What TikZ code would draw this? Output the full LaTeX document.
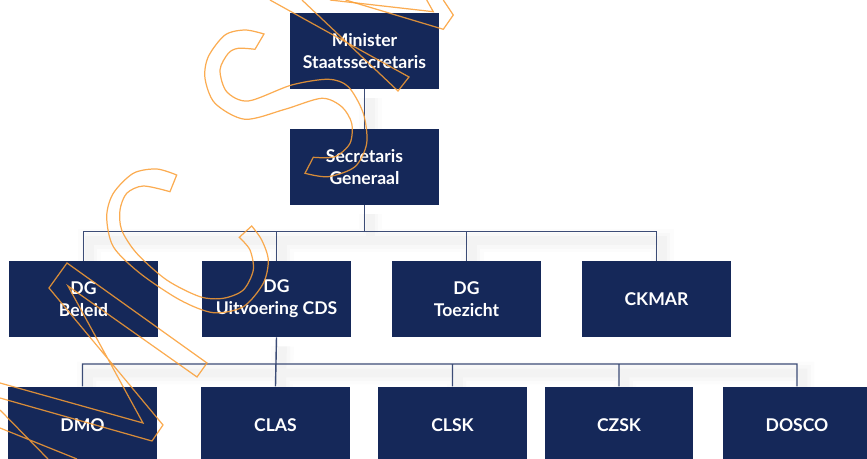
\documentclass[tikz,border=0pt]{standalone}
\usepackage{fontspec}
\setmainfont{Lato}
\usetikzlibrary{backgrounds}
\definecolor{boxblue}{RGB}{21,40,89}
\definecolor{linegray}{RGB}{60,76,118}
\definecolor{wmorange}{RGB}{250,158,52}
\begin{document}
\begin{tikzpicture}[x=0.02cm, y=-0.02cm,
    every node/.style = {fill=boxblue, text=white, align=center, inner sep=0pt,
        minimum width=2.98cm, minimum height=1.52cm,
        font=\bfseries\fontsize{10}{12.5}\selectfont},
    conn/.style = {draw=linegray, line width=0.8pt,
        preaction={draw=black, draw opacity=0.012, line width=13pt, transform canvas={shift={(6,9)}}},
        preaction={draw=black, draw opacity=0.014, line width=9pt, transform canvas={shift={(6,9)}}},
        preaction={draw=black, draw opacity=0.018, line width=5pt, transform canvas={shift={(6,9)}}}},
    wm/.style = {draw=wmorange, draw opacity=0.85, line width=0.7pt}]
    \useasboundingbox (0,0) rectangle (867,459);
    % top
    \node (min) at (364.5,51) {Minister\\Staatssecretaris};
    \node (sg) at (364.5,167) {Secretaris\\Generaal};
    % directoraten
    \node (beleid) at (83.5,299) {DG\\Beleid};
    \node (uitv) at (276.5,299) {DG\\Uitvoering CDS};
    \node (toez) at (466.5,299) {DG\\Toezicht};
    \node (ckmar) at (656.5,299) {CKMAR};
    % onder DG Uitvoering
    \node (dmo) at (82.5,424.7) {DMO};
    \node (clas) at (275.5,424.7) {CLAS};
    \node (clsk) at (452.5,424.7) {CLSK};
    \node (czsk) at (619,424.7) {CZSK};
    \node (dosco) at (797,424.7) {DOSCO};
    \coordinate (bar1) at (364.5,231.7);
    \coordinate (bar2) at (275.5,364);
    \begin{scope}[on background layer]
        \draw[conn] (min) -- (sg);
        \draw[conn] (sg.south) -- (bar1) -| (beleid.north)
            (bar1) -| (uitv.north) (bar1) -| (toez.north) (bar1) -| (ckmar.north);
        \draw[conn] (uitv.south) -- (clas.north) (bar2) -| (dmo.north)
            (bar2) -| (clsk.north) (bar2) -| (czsk.north) (bar2) -| (dosco.north);
    \end{scope}
    % watermark
    \draw[wm] (270,0) -- (409,77) -- (398,91) -- (302,0);
    \draw[wm] (330,0) -- (433.3,11.7) -- (426.7,0);
    \draw[wm] (345.6,0) -- (443.3,29.3) -- (453.3,15) -- (443.3,0);
    \draw[wm] plot[smooth] coordinates {(264,34) (245,30) (225,35) (208.3,56.7) (205,78.3)
        (215,103.3) (245,119.3) (285,109.3) (321.7,98.3) (341.7,106.7) (351.7,123.3)
        (350,143.3) (335,156.7) (313.3,157.3)}
        -- plot[smooth] coordinates {(305,173.3) (328.3,176.7) (355,166.7) (366.7,143.3)
        (363.3,113.3) (348.3,86.7) (328.3,79.3) (291.7,85) (248.3,101) (226.7,91.7)
        (220,70) (228.3,53.3) (238.3,48.3) (255,49.3)} -- cycle;
    \draw[wm] plot[smooth] coordinates {(176.7,175) (156.7,169) (133.3,173.3) (113.3,193.3)
        (106.7,216.7) (113.3,246.7) (140,273.3) (180,300) (213.3,312.7) (243.3,306.7)
        (263.3,283.3) (268.3,260) (261.7,240) (251.7,226)}
        -- plot[smooth] coordinates {(239.3,237.3) (250,250) (253.3,270) (243.3,290)
        (223.3,298.3) (200,296.7) (166.7,280) (136.7,253.3) (121.7,230) (120,210)
        (126.7,193.3) (143.3,186) (170,191.7)} -- cycle;
    \draw[wm] (0,398) -- (152,441) -- (163,425) -- (49,288) -- (67,263) -- (207,363)
        -- (197,377) -- (68,286) -- (143,423) -- (0,383);
    \draw[wm] (0,410) -- (48,459) (0,428) -- (77,459);
\end{tikzpicture}
\end{document}
